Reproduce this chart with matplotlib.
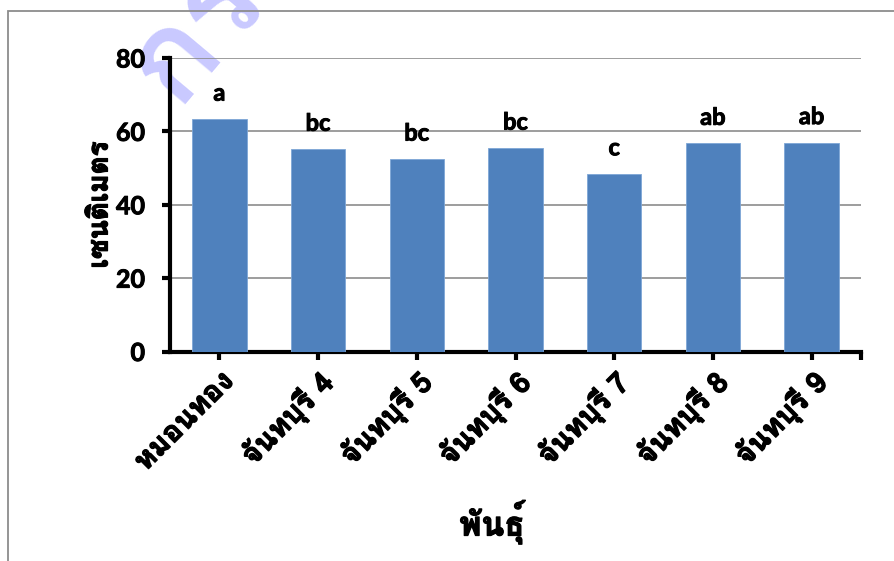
import matplotlib
matplotlib.use('Agg')
import matplotlib.pyplot as plt
from matplotlib import font_manager
from matplotlib.ft2font import FT2Font
from matplotlib.patches import Rectangle
import matplotlib.patheffects as pe

# data
varieties = ['หมอนทอง', 'จันทบุรี 4', 'จันทบุรี 5', 'จันทบุรี 6', 'จันทบุรี 7', 'จันทบุรี 8', 'จันทบุรี 9']
heights = [63.3, 55.1, 52.4, 55.4, 48.4, 56.7, 56.9]
letters = ['a', 'bc', 'bc', 'bc', 'c', 'ab', 'ab']
yticks = [0, 20, 40, 60, 80]


# find a font that has thai glyphs
def thai_font():
    best = None
    for f in font_manager.fontManager.ttflist:
        try:
            cm = FT2Font(f.fname).get_charmap()
        except Exception:
            continue
        if ord('ก') in cm and ord('ุ') in cm:
            if f.weight in ('bold', 700) or 'Bold' in f.fname:
                return f.name
            if best is None:
                best = f.name
    return best


tf = thai_font()
thai = [tf, 'Lato', 'DejaVu Sans'] if tf else ['DejaVu Sans']
latin = ['Lato', 'DejaVu Sans']
plt.rcParams['font.family'] = thai
fat = [pe.withStroke(linewidth=0.9, foreground='black')]
fat2 = [pe.withStroke(linewidth=0.7, foreground='black')]

fig = plt.figure(figsize=(8.94, 5.61), dpi=100)
ax = fig.add_axes([170 / 894, 1 - 351.5 / 561, 691 / 894, 293.5 / 561])
ax.patch.set_visible(False)

# outer frame
fig.patches.append(Rectangle((8 / 894, -0.1), 1.2, 1 - 11 / 561 + 0.1, transform=fig.transFigure,
                             fill=False, edgecolor='#8c8c8c', linewidth=1.3))

# watermark
fig.text(0.25, 1.0, 'กรม', fontsize=90, color='#c9c9ff', rotation=50,
         ha='center', va='center', fontweight='bold', zorder=-1)

x = range(len(varieties))
bars = ax.bar(x, heights, width=0.55, color='#4f81bd', edgecolor='#7ea6d6', linewidth=0.6, zorder=3)
for i, b in enumerate(bars):
    ax.text(b.get_x() + b.get_width() / 2, heights[i] + 4, letters[i], ha='center', va='bottom',
            fontsize=17, fontweight='bold', family=latin, path_effects=fat2)

ax.set_xlim(-0.5, 6.5)
ax.set_ylim(0, 80)
ax.set_yticks(yticks)
ax.set_yticklabels([str(v) for v in yticks], fontsize=18, fontweight='bold', family=latin,
                   path_effects=fat2)
ax.yaxis.grid(True, color='#8c8c8c', linewidth=1.2, zorder=0)
ax.set_xticks(list(x) + [6.5])
ax.set_xticklabels(varieties + [''], rotation=45, ha='right', va='top', rotation_mode='anchor',
                   fontsize=21, fontweight='bold', path_effects=fat)

for s in ['top', 'right']:
    ax.spines[s].set_visible(False)
for s in ['left', 'bottom']:
    ax.spines[s].set_linewidth(3)
ax.tick_params(axis='both', direction='out', length=6, width=3)
ax.tick_params(axis='y', pad=12)
ax.tick_params(axis='x', pad=5)

ax.set_ylabel('เซนติเมตร', fontsize=20, fontweight='bold', path_effects=fat)
ax.yaxis.set_label_coords(-70 / 691, (351.5 - 205) / 293.5)
ax.set_xlabel('พันธุ์', fontsize=24, fontweight='bold', path_effects=fat)
ax.xaxis.set_label_coords((492 - 170) / 691, -(522 - 351.5) / 293.5)
ax.xaxis.label.set_va('center')
ax.yaxis.label.set_va('center')

fig.savefig('out.png', dpi=100)
